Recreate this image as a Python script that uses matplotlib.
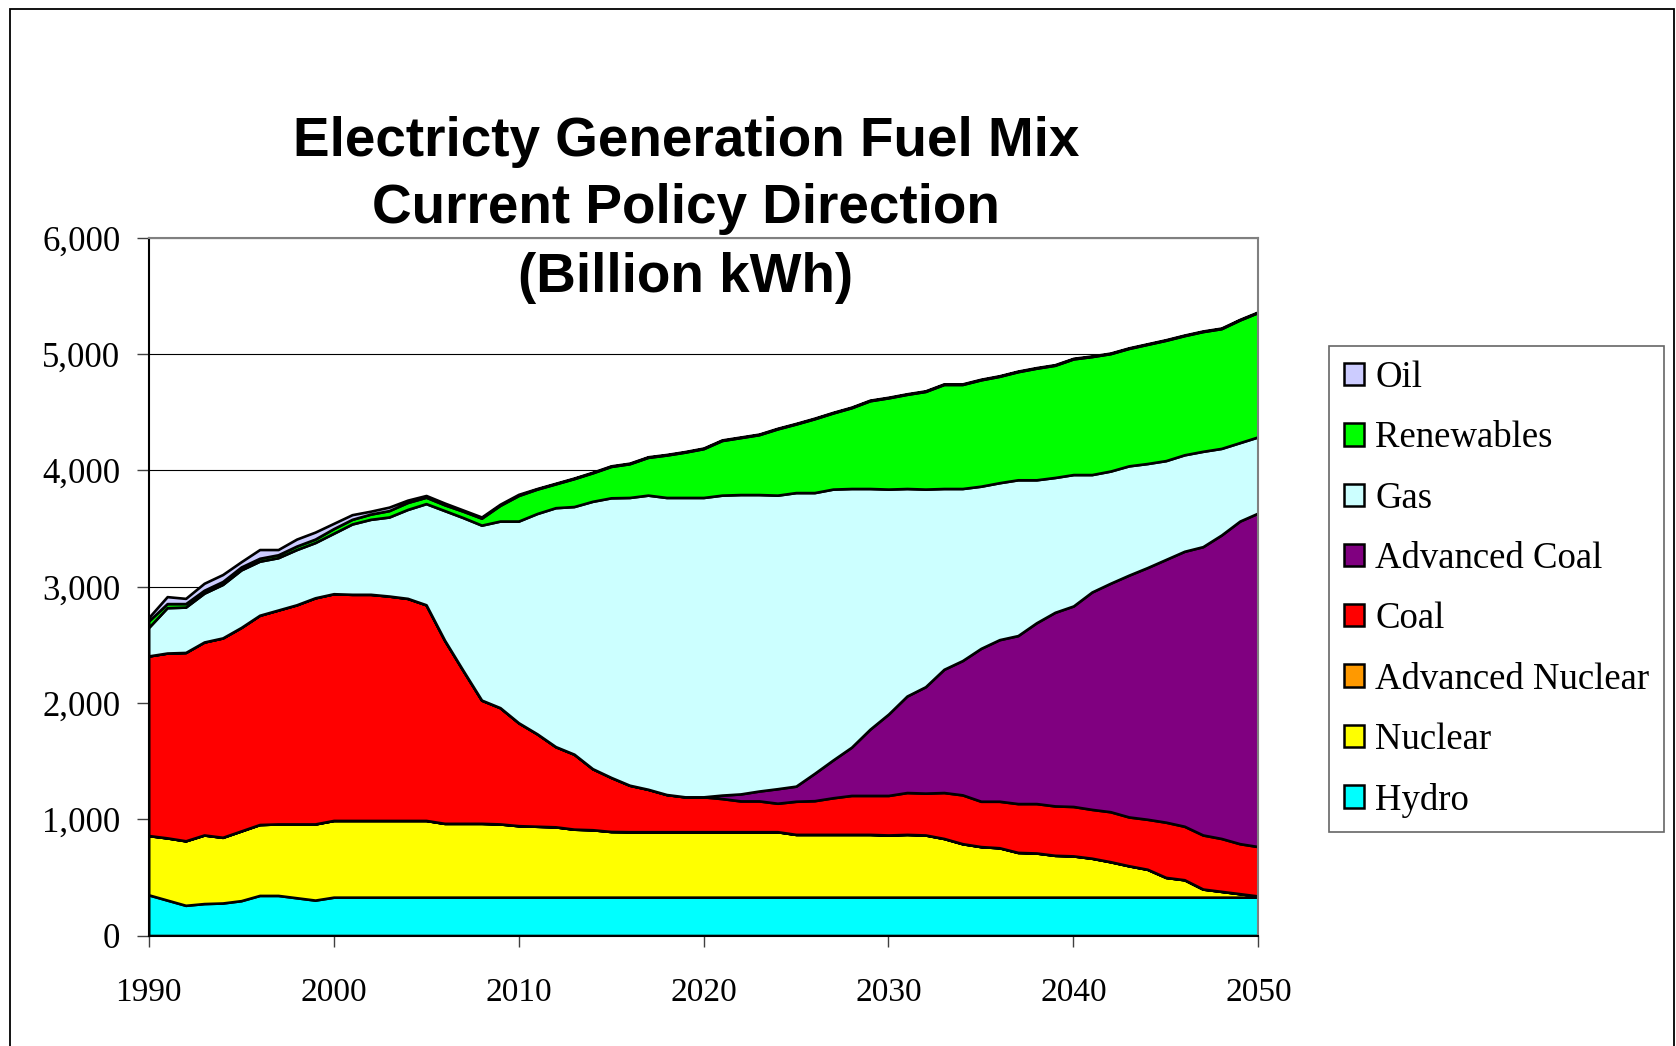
import matplotlib
matplotlib.use("Agg")
import matplotlib.pyplot as plt
from matplotlib.patches import Patch, Rectangle

years = list(range(1990, 2051))

# Billion kWh (one row per decade, last value 2050)
hydro = [350, 305, 260, 275, 280, 300, 345, 345, 325, 305,
         330, 330, 330, 330, 330, 330, 330, 330, 330, 330,
         330, 330, 330, 330, 330, 330, 330, 330, 330, 330,
         330, 330, 330, 330, 330, 330, 330, 330, 330, 330,
         330, 330, 330, 330, 330, 330, 330, 330, 330, 330,
         330, 330, 330, 330, 330, 330, 330, 330, 330, 330,
         330]
nuclear = [510, 535, 555, 590, 565, 600, 610, 615, 635, 655,
           660, 660, 660, 660, 660, 660, 635, 635, 635, 630,
           615, 610, 605, 585, 580, 565, 563, 563, 563, 563,
           563, 563, 563, 563, 563, 540, 540, 540, 540, 540,
           535, 540, 535, 505, 460, 435, 425, 385, 380, 360,
           355, 335, 305, 270, 240, 170, 150, 70, 50, 30,
           10]
adv_nuclear = [0, 0, 0, 0, 0, 0, 0, 0, 0, 0,
               0, 0, 0, 0, 0, 0, 0, 0, 0, 0,
               0, 0, 0, 0, 0, 0, 0, 0, 0, 0,
               0, 0, 0, 0, 0, 0, 0, 0, 0, 0,
               0, 0, 0, 0, 0, 0, 0, 0, 0, 0,
               0, 0, 0, 0, 0, 0, 0, 0, 0, 0,
               0]
coal = [1545, 1590, 1620, 1660, 1715, 1750, 1800, 1840, 1885, 1945,
        1950, 1945, 1945, 1930, 1910, 1855, 1575, 1315, 1060, 1000,
        885, 795, 690, 645, 525, 465, 400, 365, 320, 300,
        300, 285, 265, 265, 245, 285, 290, 315, 335, 335,
        340, 360, 360, 395, 420, 390, 400, 420, 425, 425,
        425, 420, 430, 420, 430, 475, 460, 465, 455, 430,
        425]
adv_coal = [0, 0, 0, 0, 0, 0, 0, 0, 0, 0,
            0, 0, 0, 0, 0, 0, 0, 0, 0, 0,
            0, 0, 0, 0, 0, 0, 0, 0, 0, 0,
            0, 30, 60, 85, 125, 130, 235, 325, 415, 570,
            700, 830, 915, 1060, 1155, 1315, 1390, 1445, 1555, 1665,
            1725, 1870, 1965, 2080, 2165, 2260, 2365, 2480, 2610, 2775,
            2870]
gas = [245, 390, 390, 420, 460, 495, 465, 450, 475, 475,
       520, 605, 645, 680, 765, 870, 1115, 1315, 1505, 1605,
       1735, 1895, 2055, 2130, 2300, 2405, 2475, 2530, 2555, 2575,
       2575, 2580, 2575, 2550, 2525, 2525, 2415, 2330, 2225, 2070,
       1935, 1785, 1700, 1555, 1480, 1395, 1350, 1340, 1230, 1160,
       1130, 1010, 965, 940, 895, 850, 830, 820, 745, 675,
       655]
renewables = [55, 35, 30, 25, 25, 25, 25, 25, 30, 30,
              40, 40, 45, 55, 60, 55, 50, 55, 60, 135,
              220, 210, 205, 240, 245, 270, 290, 325, 365, 390,
              420, 470, 490, 515, 570, 590, 635, 655, 695, 755,
              785, 810, 840, 895, 895, 915, 915, 930, 960, 965,
              995, 1015, 1010, 1010, 1025, 1035, 1025, 1030, 1030, 1055,
              1070]
oil = [30, 60, 45, 60, 60, 45, 75, 45, 60, 60,
       45, 40, 25, 30, 20, 15, 15, 10, 10, 10,
       10, 5, 5, 5, 5, 5, 5, 5, 5, 5,
       5, 5, 5, 5, 5, 5, 5, 5, 5, 5,
       5, 5, 5, 5, 5, 5, 5, 5, 5, 5,
       5, 5, 5, 5, 5, 5, 5, 5, 5, 5,
       5]

labels = ["Hydro", "Nuclear", "Advanced Nuclear", "Coal", "Advanced Coal",
          "Gas", "Renewables", "Oil"]
colors = ["#00FFFF", "#FFFF00", "#FF9900", "#FF0000", "#800080",
          "#CCFFFF", "#00FF00", "#CCCCFF"]

serif = "Liberation Serif"
sans = "Liberation Sans"

fig = plt.figure(figsize=(16.76, 10.46), dpi=100)
ax = fig.add_axes([0.0887, 0.1056, 0.6621, 0.6669])

ax.stackplot(years, hydro, nuclear, adv_nuclear, coal, adv_coal, gas,
             renewables, oil, colors=colors, edgecolor="black",
             linewidth=1.9, zorder=3)

ax.set_xlim(1990, 2050)
ax.set_ylim(0, 6000)
ax.set_xticks(range(1990, 2051, 10))
ax.set_yticks(range(0, 6001, 1000))
ax.set_yticklabels([f"{v:,}" for v in range(0, 6001, 1000)])
ax.grid(axis="y", color="black", linewidth=0.8, zorder=1)
ax.set_axisbelow(True)

for lab in ax.get_xticklabels():
    lab.set_fontfamily(serif)
    lab.set_fontsize(24)
for lab in ax.get_yticklabels():
    lab.set_fontfamily(serif)
    lab.set_fontsize(25)
ax.tick_params(axis="y", direction="out", length=8.4, width=1, pad=12,
               color="#404040")
ax.tick_params(axis="x", direction="out", length=8, width=1, pad=22.5,
               color="#404040")

ax.spines["left"].set_color("black")
ax.spines["bottom"].set_color("black")
ax.spines["top"].set_color("#808080")
ax.spines["right"].set_color("#808080")
for s in ax.spines.values():
    s.set_linewidth(1.5)
    s.set_zorder(4)

# title, three lines
tx = 0.4093
fig.text(tx, 0.8509, "Electricty Generation Fuel Mix", ha="center",
         va="baseline", fontsize=39.5, fontweight="bold", family=sans)
fig.text(tx, 0.7868, "Current Policy Direction", ha="center",
         va="baseline", fontsize=39.5, fontweight="bold", family=sans)
fig.text(tx, 0.7208, "(Billion kWh)", ha="center",
         va="baseline", fontsize=39.5, fontweight="bold", family=sans)

# legend, top item is Oil
handles = [Patch(facecolor=c, edgecolor="black", linewidth=1.8)
           for c in colors][::-1]
leg = fig.legend(handles, labels[::-1], loc="upper left",
                 bbox_to_anchor=(1329 / 1676, 1 - 346 / 1046),
                 borderaxespad=0, prop={"family": serif, "size": 26.5},
                 handlelength=0.55, handleheight=0.55, handletextpad=0.3,
                 labelspacing=0.7, borderpad=0.4, fancybox=False,
                 frameon=True)
leg.get_frame().set_edgecolor("#404040")
leg.get_frame().set_linewidth(1.2)

# outer chart border
fig.patches.append(Rectangle((10 / 1676, -0.01), 1664 / 1676,
                             1.01 - 8.5 / 1046, transform=fig.transFigure,
                             fill=False, edgecolor="black", linewidth=1.3))

fig.savefig("out.png", dpi=100, facecolor="white")
